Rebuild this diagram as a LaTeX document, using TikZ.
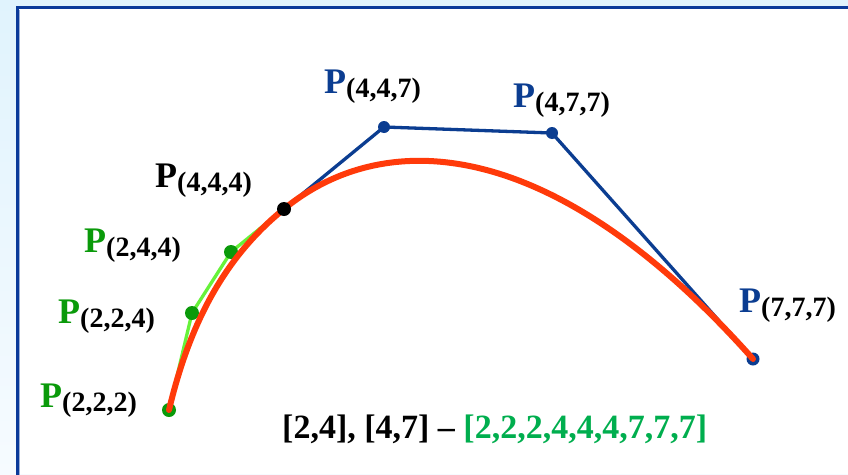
\documentclass[tikz,border=0pt]{standalone}
\usepackage{fontspec}
\setmainfont{Liberation Serif}
\usetikzlibrary{positioning}

\definecolor{frameblue}{HTML}{0A3A9A}
\definecolor{ptblue}{HTML}{0B3D91}
\definecolor{ptgreen}{HTML}{0A9A0A}
\definecolor{polygreen}{HTML}{66F23A}
\definecolor{curvered}{HTML}{FF3A0A}
\definecolor{knotgreen}{HTML}{00AE4E}
\definecolor{bgtop}{HTML}{E0F3FD}
\definecolor{bgbottom}{HTML}{F6FBFF}

% P mit Index
\newcommand{\ctrlpt}[2]{\textcolor{#1}{P}\raisebox{-4pt}{\fontsize{28}{28}\selectfont(#2)}}

\begin{document}
\begin{tikzpicture}[
            x=1pt, y=-1pt,
            lbl/.style={anchor=base west, inner sep=0pt,
            font=\fontsize{36}{36}\selectfont\bfseries},
            dot/.style={circle, inner sep=0pt, minimum size=#1},
            dot/.default=12pt,
            ctrl/.style={line width=3.3pt, line join=round},
            curve/.style={draw=curvered, line width=6pt, line cap=round}
        ]
\useasboundingbox (0,0) rectangle (848,474);

% ----- Hintergrund -----
            \shade[top color=bgtop, bottom color=bgbottom] (0,0) rectangle (848,474);
            \fill[white] (17,7) rectangle (848,474);
            \draw[frameblue, line width=2.5pt] (17.5,480) -- (17.5,7.5) -- (860,7.5);
            \draw[frameblue!40, line width=0.8pt] (19.6,480) -- (19.6,9.6);

% ----- Kontrollpunkte -----
            \coordinate (c222) at (169,410);
            \coordinate (c224) at (192,313);
            \coordinate (c244) at (231,252);
            \coordinate (c444) at (284,209);
            \coordinate (c447) at (384,127);
            \coordinate (c477) at (552,133);
            \coordinate (c777) at (753,359);

% ----- Kontrollpolygone -----
            \draw[ctrl, polygreen] (c222) -- (c224) -- (c244) -- (c444);
            \draw[ctrl, ptblue] (c444) -- (c447) -- (c477) -- (c777);

            \node[dot=14pt, fill=ptgreen] (d222) at (c222) {};
            \node[dot=14pt, fill=ptgreen] (d224) at (c224) {};
            \node[dot=14pt, fill=ptgreen] (d244) at (c244) {};
            \node[dot, fill=ptblue] (d447) at (c447) {};
            \node[dot, fill=ptblue] (d477) at (c477) {};
            \node[dot=13pt, fill=ptblue] (d777) at (c777) {};

% ----- Kurve -----
            \draw[curve] (d222.center) .. controls (d224.center) and (d244.center) .. (c444)
                .. controls (d447.center) and (d477.center) .. (d777.center);
            \node[dot=14pt, fill=black] (d444) at (c444) {};

% ----- Beschriftungen -----
            \node[lbl] (l222) at (40,407) {\ctrlpt{ptgreen}{2,2,2}};
            \node[lbl] (l224) at (58,323) {\ctrlpt{ptgreen}{2,2,4}};
            \node[lbl] (l244) at (84,252) {\ctrlpt{ptgreen}{2,4,4}};
            \node[lbl] (l444) at (155,187) {\ctrlpt{black}{4,4,4}};
            \node[lbl] (l447) at (324,93) {\ctrlpt{ptblue}{4,4,7}};
            \node[lbl] (l477) at (513,107) {\ctrlpt{ptblue}{4,7,7}};
            \node[lbl] (l777) at (739,312) {\ctrlpt{ptblue}{7,7,7}};

            \node[lbl, font=\fontsize{34}{34}\selectfont\bfseries] (knots) at (282,438)
                {[2,4], [4,7] -- \textcolor{knotgreen}{[2,2,2,4,4,4,7,7,7]}};

        \end{tikzpicture}
\end{document}
